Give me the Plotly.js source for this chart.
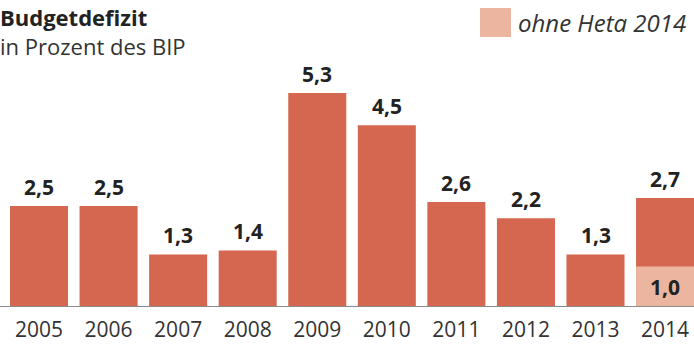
<!DOCTYPE html>
<html>
<head>
<meta charset="utf-8">
<script src="https://cdn.plot.ly/plotly-3.0.1.min.js"></script>
<style>html,body{margin:0;padding:0;background:#fff;}#chart{width:694px;height:345px;}</style>
</head>
<body>
<div id="chart"></div>
<script>
var years = ["2005","2006","2007","2008","2009","2010","2011","2012","2013","2014"];
var deficit = [2.5, 2.5, 1.3, 1.4, 5.3, 4.5, 2.6, 2.2, 1.3, 2.7];
var deficitLabels = ["2,5","2,5","1,3","1,4","5,3","4,5","2,6","2,2","1,3","2,7"];
var ohneHetaYears = ["2014"];
var ohneHeta = [1.0];
var ohneHetaLabels = ["1,0"];

var darkColor = "#d5664f";
var lightColor = "#ecb5a0";
var font = "Open Sans, Noto Sans, sans-serif";
var plotH = 307;

var traces = [
  {type:"bar", x:years, y:deficit, marker:{color:darkColor}, hoverinfo:"none", showlegend:false},
  {type:"bar", x:ohneHetaYears, y:ohneHeta, marker:{color:lightColor}, hoverinfo:"none", showlegend:false,
   text:ohneHetaLabels, textposition:"inside", insidetextanchor:"middle", constraintext:"none",
   textfont:{family:font, size:21, color:"#222", weight:"bold"}}
];

var annotations = years.map(function(yr,i){
  return {x:i, y:deficit[i], text:"<b>"+deficitLabels[i]+"</b>", showarrow:false,
    yanchor:"bottom", yshift:3, font:{family:font, size:21, color:"#222"}};
});
annotations.push({xref:"paper", yref:"paper", x:-12/684, y:1-17/plotH, xanchor:"left", yanchor:"middle",
  text:"<b>Budgetdefizit</b>", showarrow:false, font:{family:font, size:22, color:"#222"}});
annotations.push({xref:"paper", yref:"paper", x:-12/684, y:1-46/plotH, xanchor:"left", yanchor:"middle",
  text:"in Prozent des BIP", showarrow:false, font:{family:font, size:22, color:"#333"}});
annotations.push({xref:"paper", yref:"paper", x:(516-10)/684, y:1-22/plotH, xanchor:"left", yanchor:"middle",
  text:"<i>ohne Heta 2014</i>", showarrow:false, font:{family:font, size:24, color:"#333"}});

var layout = {
  width:694, height:345,
  margin:{l:10, r:0, t:0, b:38},
  paper_bgcolor:"#fff", plot_bgcolor:"#fff",
  barmode:"overlay", bargap:0.166,
  xaxis:{type:"category", range:[-0.417, 9.416], showgrid:false, zeroline:false, showline:false,
    ticks:"", ticklabelstandoff:8, tickfont:{family:font, size:21, color:"#333"}, fixedrange:true},
  yaxis:{range:[0, 7.6], showgrid:false, zeroline:false, showline:false, showticklabels:false, fixedrange:true},
  shapes:[
    {type:"line", xref:"paper", yref:"y", x0:-0.02, x1:1, y0:0, y1:0, line:{color:"#8a8a8a", width:2}},
    {type:"rect", xref:"paper", yref:"paper", x0:(480-10)/684, x1:(511-10)/684, y0:1-37/plotH, y1:1-8/plotH,
     fillcolor:lightColor, line:{width:0}}
  ],
  annotations:annotations
};

Plotly.newPlot("chart", traces, layout, {displayModeBar:false, staticPlot:true});
</script>
</body>
</html>
